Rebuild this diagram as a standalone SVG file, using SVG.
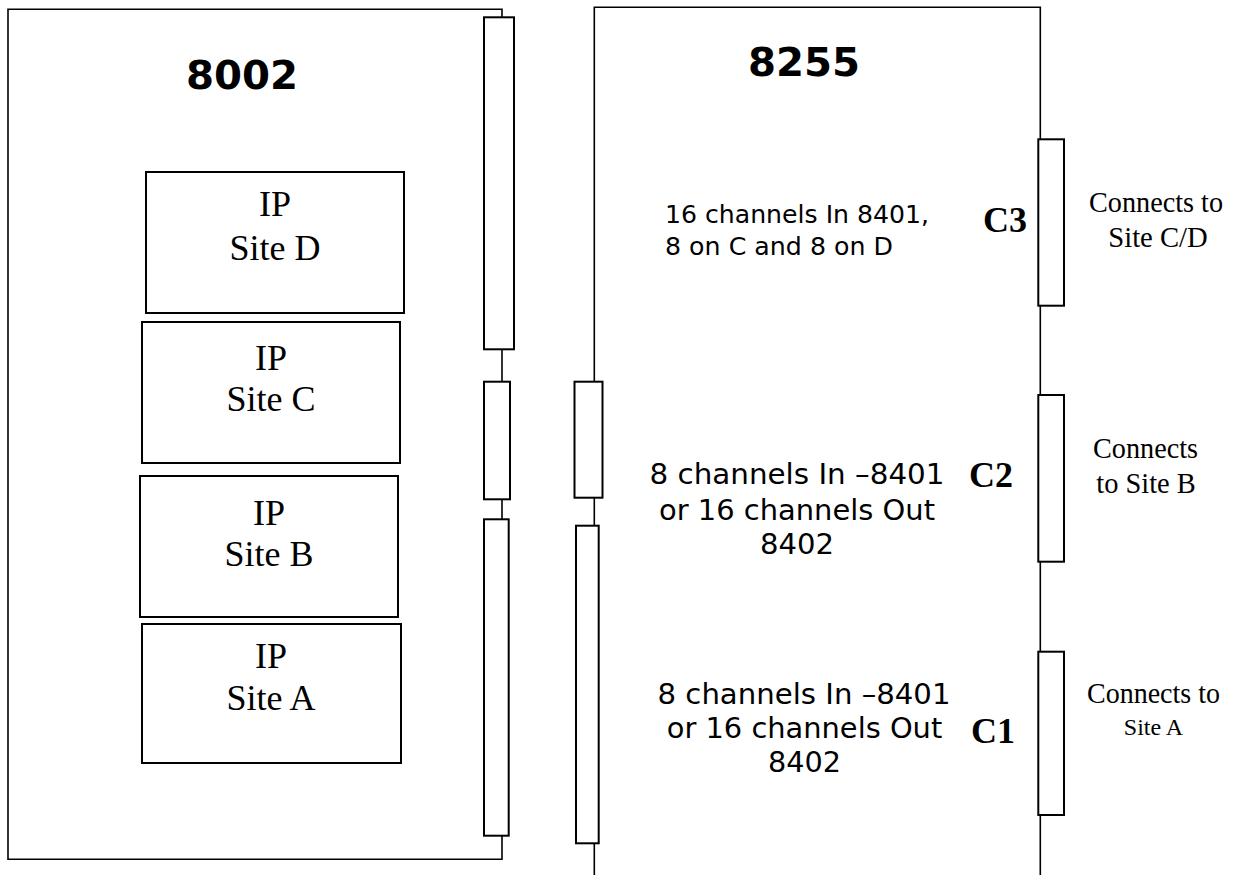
<svg xmlns="http://www.w3.org/2000/svg" width="1233" height="875" viewBox="0 0 1233 875">
<style>
.bg{fill:#fff}
.edge{fill:none;stroke:#000;stroke-width:1.6}
.pin{fill:#fff;stroke:#000;stroke-width:2}
.ip{fill:#fff;stroke:#000;stroke-width:2}
.title{font-family:"DejaVu Sans",Verdana,sans-serif;font-weight:bold;font-size:39px;fill:#000;text-anchor:middle}
.body{font-family:"DejaVu Sans",Verdana,sans-serif;font-size:28.5px;fill:#000;text-anchor:middle}
.body3{font-family:"DejaVu Sans",Verdana,sans-serif;font-size:24.5px;fill:#000}
.ipt{font-family:"Liberation Serif","Times New Roman",serif;font-size:36px;fill:#000;text-anchor:middle}
.cl{font-family:"Liberation Serif","Times New Roman",serif;font-weight:bold;font-size:36px;fill:#000}
.note{font-family:"Liberation Serif","Times New Roman",serif;font-size:29px;fill:#000;text-anchor:middle}
</style>
<rect class="bg" x="0" y="0" width="1233" height="875"/>

<g id="board-8002">
  <path class="edge" d="M502,17.3 V9.3 H8 V859.3 H502 V835.7"/>
  <text class="title" x="242" y="88.5" textLength="112" lengthAdjust="spacingAndGlyphs">8002</text>
</g>

<g id="ip-site-d">
  <rect class="ip" x="146" y="172" width="258" height="141"/>
  <text class="ipt" x="275" y="215.5">IP</text>
  <text class="ipt" x="275" y="260">Site D</text>
</g>
<g id="ip-site-c">
  <rect class="ip" x="142" y="322" width="258" height="141"/>
  <text class="ipt" x="271" y="370">IP</text>
  <text class="ipt" x="271" y="411">Site C</text>
</g>
<g id="ip-site-b">
  <rect class="ip" x="140" y="476" width="258" height="141"/>
  <text class="ipt" x="269" y="525">IP</text>
  <text class="ipt" x="269" y="566">Site B</text>
</g>
<g id="ip-site-a">
  <rect class="ip" x="142" y="624" width="259" height="139"/>
  <text class="ipt" x="271" y="668">IP</text>
  <text class="ipt" x="271" y="710">Site A</text>
</g>

<g id="pin-8002-top"><rect class="pin" x="484" y="17.3" width="30" height="332"/></g>
<g id="pin-8002-mid"><rect class="pin" x="484" y="381.7" width="26" height="117.6"/></g>
<g id="pin-8002-bot"><rect class="pin" x="484" y="519.3" width="24.7" height="316.4"/></g>

<g id="board-8255">
  <path class="edge" d="M594.3,381.7 V7.3 H1040.3 V139.3"/>
  <text class="title" x="804" y="75.5" textLength="112" lengthAdjust="spacingAndGlyphs">8255</text>
  <text class="body3" x="665" y="222.7" textLength="264" lengthAdjust="spacingAndGlyphs">16 channels In 8401,</text>
  <text class="body3" x="665" y="255" textLength="228" lengthAdjust="spacingAndGlyphs">8 on C and 8 on D</text>
  <text class="body" x="797" y="483.5" textLength="295" lengthAdjust="spacingAndGlyphs">8 channels In –8401</text>
  <text class="body" x="797" y="519.5" textLength="276" lengthAdjust="spacingAndGlyphs">or 16 channels Out</text>
  <text class="body" x="797" y="554" textLength="74" lengthAdjust="spacingAndGlyphs">8402</text>
  <text class="body" x="804" y="704" textLength="293" lengthAdjust="spacingAndGlyphs">8 channels In –8401</text>
  <text class="body" x="804.5" y="737.5" textLength="275.5" lengthAdjust="spacingAndGlyphs">or 16 channels Out</text>
  <text class="body" x="804.5" y="771.5" textLength="73" lengthAdjust="spacingAndGlyphs">8402</text>
</g>

<g id="pin-8255-left-top"><rect class="pin" x="574.5" y="381.7" width="28" height="116"/></g>
<g id="pin-8255-left-bot"><rect class="pin" x="576" y="525.7" width="22.7" height="317.6"/></g>

<g id="conn-c3">
  <rect class="pin" x="1038.3" y="139.3" width="25.7" height="166.4"/>
  <text class="cl" x="983" y="231.7">C3</text>
  <text class="note" x="1156" y="212" textLength="134" lengthAdjust="spacingAndGlyphs">Connects to</text>
  <text class="note" x="1158" y="247" textLength="99.5" lengthAdjust="spacingAndGlyphs">Site C/D</text>
</g>
<g id="conn-c2">
  <rect class="pin" x="1038.3" y="395" width="25.7" height="166.7"/>
  <text class="cl" x="969" y="487.3">C2</text>
  <text class="note" x="1145.5" y="458" textLength="105" lengthAdjust="spacingAndGlyphs">Connects</text>
  <text class="note" x="1146" y="493.3" textLength="99.5" lengthAdjust="spacingAndGlyphs">to Site B</text>
</g>
<g id="conn-c1">
  <rect class="pin" x="1038.3" y="651.7" width="25.7" height="163.3"/>
  <text class="cl" x="971" y="743.3">C1</text>
  <text class="note" x="1153.5" y="703.3" textLength="133" lengthAdjust="spacingAndGlyphs">Connects to</text>
  <text class="note" x="1153.5" y="735" style="font-size:24px">Site A</text>
</g>

<g id="connectors">
  <path class="edge" d="M502,349.3 V381.7 M502,499.3 V519.3"/>
  <path class="edge" d="M594.3,497.7 V525.7 M594.3,843.3 V875"/>
  <path class="edge" d="M1040.3,305.7 V395 M1040.3,561.7 V651.7 M1040.3,815 V875"/>
</g>
</svg>
